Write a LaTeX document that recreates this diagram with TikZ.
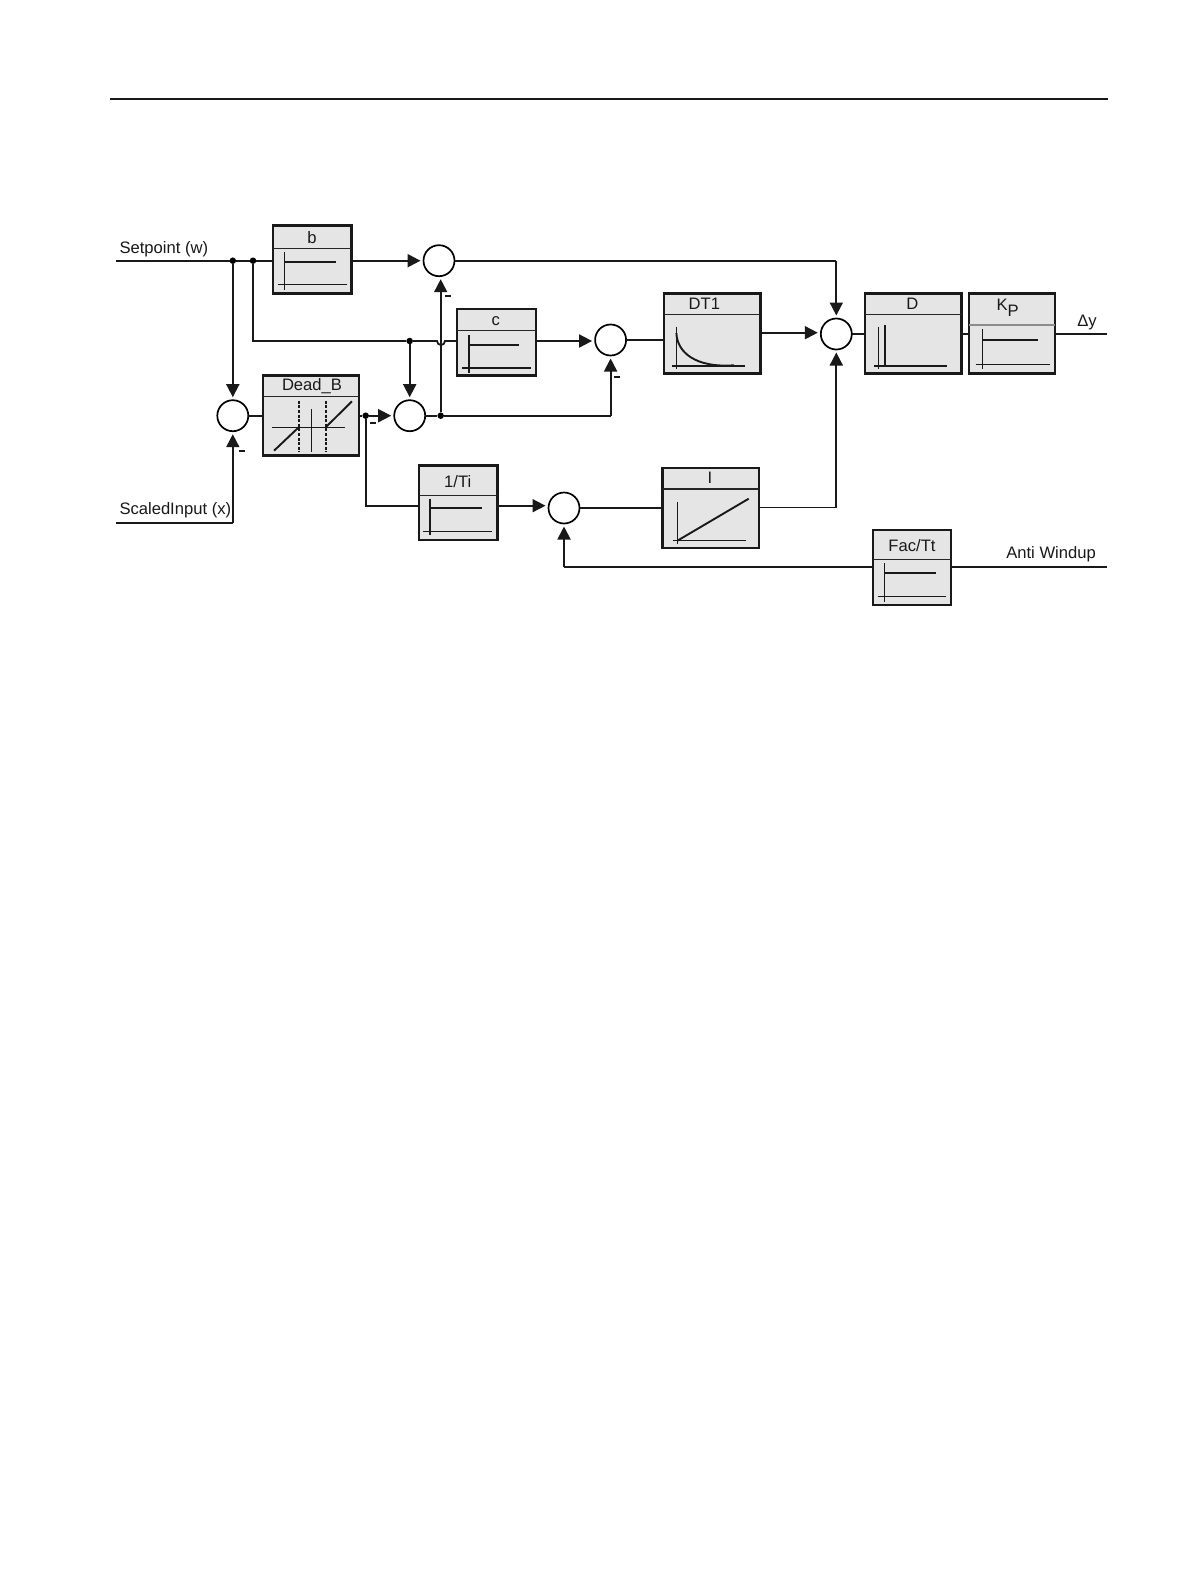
\documentclass[tikz,border=0pt]{standalone}
\usepackage{fontspec}
\setmainfont{Liberation Sans}
\usetikzlibrary{arrows.meta}
\tikzset{
  wire/.style={line width=1.8pt,draw=black!90},
  heavy/.style={line width=2.2pt,draw=black!90},
  flow/.style={wire,-{Triangle[length=13pt,width=13pt]},shorten >=3pt},
  blockbody/.style={draw=black!90,line width=2.4pt,fill=black!10,inner sep=0pt,outer sep=0pt},
  summer/.style={circle,draw=black,line width=1.7pt,fill=white,minimum size=31pt,inner sep=0pt,outer sep=0pt},
  dotnode/.style={circle,fill=black,minimum size=6.5pt,inner sep=0pt,outer sep=0pt},
  divline/.style={line width=1.5pt,draw=black!85},
  plotthin/.style={line width=1.2pt,draw=black!90},
  plotthick/.style={line width=1.9pt,draw=black!90},
  caption/.style={font=\fontsize{16.6}{18}\selectfont,text=black!90,inner sep=0pt},
  minussign/.style={fill=black!90,minimum width=6pt,minimum height=2.4pt,inner sep=0pt,outer sep=0pt}
}
\newcommand{\blockbox}[7][divline]{%
  \pgfmathsetmacro{\bcx}{(#3+#5)/2}\pgfmathsetmacro{\bcy}{(#4+#6)/2}%
  \pgfmathsetmacro{\bw}{#5-#3}\pgfmathsetmacro{\bh}{#6-#4}%
  \node[blockbody,minimum width=\bw pt,minimum height=\bh pt] (#2) at (\bcx,\bcy) {};%
  \draw[#1] (#3,#7) -- (#5,#7);}
\begin{document}
\begin{tikzpicture}[x=1pt,y=-1pt]
\useasboundingbox[fill=white] (0,0) rectangle (1191,1587);
% top rule
\coordinate (ruleL) at (110,99.2);
\coordinate (ruleR) at (1108,99.2);
\draw[wire] (ruleL) -- (ruleR);
% blocks
\blockbox{b}{272.7}{225.3}{351.3}{293.3}{248.3}
\blockbox{c}{456.7}{308.7}{535.7}{375.3}{330.7}
\blockbox{dead}{262.7}{375.3}{359}{455.3}{396.7}
\blockbox{ti}{418.7}{465.3}{497.3}{539.7}{495.7}
\blockbox{dt}{664}{293.3}{760.4}{373.3}{314.3}
\blockbox{d}{865.1}{293.3}{961.5}{373.3}{314.3}
\blockbox[{line width=1.5pt,draw=black!45}]{kp}{969.1}{293.3}{1055.2}{373.3}{325}
\blockbox{int}{662.6}{468}{759}{548}{489}
\blockbox{fac}{872.7}{530}{951.2}{604.7}{559.3}
% summers
\node[summer] (s1) at (439,260.7) {};
\node[summer] (s2) at (610.6,340) {};
\node[summer] (s3) at (836.3,334) {};
\node[summer] (s4) at (232.8,415.7) {};
\node[summer] (s5) at (409.7,415.7) {};
\node[summer] (s6) at (564,508) {};
% junctions
\node[dotnode] (j1) at (232.8,260.7) {};
\node[dotnode] (j2) at (253,260.7) {};
\node[dotnode] (j3) at (409.7,341) {};
\node[dotnode] (j4) at (440.7,415.7) {};
\node[dotnode] (j5) at (365.7,415.7) {};
% free ends and bends
\coordinate (wIn) at (116,260.7);
\coordinate (xIn) at (116,522.7);
\coordinate (xBend) at (232.8,522.7);
\coordinate (cRow) at (253,341);
\coordinate (hopA) at (437,341);
\coordinate (s2Bend) at (610.6,415.7);
\coordinate (tiRow) at (365.7,505.7);
\coordinate (dyOut) at (1107,334);
\coordinate (awOut) at (1107,567.3);
\coordinate (awBend) at (564,567.3);
\coordinate (s1Bend) at (836.3,260.7);
\coordinate (iBend) at (836.3,507.5);
\coordinate (dtRow) at (760.4,332.7);
% connectors
\draw[heavy] (wIn) -- (j1) -- (j2) -- (b.west |- wIn);
\draw[flow,line width=2.2pt] (b.east |- s1) -- (s1.west);
\draw[wire] (s1.east) -- (s1Bend);
\draw[flow] (s1Bend) -- (s3.north);
\draw[flow] (j1) -- (s4.north);
\draw[wire] (xIn) -- (xBend);
\draw[flow] (xBend) -- (s4.south);
\draw[wire] (j2) -- (cRow) -- (j3) -- (hopA) arc[start angle=180,end angle=0,radius=4] -- (c.west |- cRow);
\draw[flow] (c.east |- cRow) -- (s2.west |- cRow);
\draw[flow] (j3) -- (s5.north);
\draw[wire] (s4.east) -- (dead.west |- s4);
\draw[wire] (dead.east |- j5) -- (j5);
\draw[flow] (j5) -- (s5.west);
\draw[wire] (s5.east) -- (j4) -- (s2Bend);
\draw[flow] (s2Bend) -- (s2.south);
\draw[flow] (j4) -- (j4 |- s1.south);
\draw[wire] (j5) -- (tiRow) -- (ti.west |- tiRow);
\draw[flow] (ti.east |- tiRow) -- (s6.west |- tiRow);
\draw[wire] (s2.east) -- (dt.west |- s2);
\draw[flow] (dtRow) -- (s3.west |- dtRow);
\draw[wire] (s3.east) -- (d.west |- s3);
\draw[wire] (d.east |- s3) -- (kp.west |- s3);
\draw[wire] (kp.east |- s3) -- (dyOut);
\draw[wire] (s6.east) -- (int.west |- s6);
\draw[wire] (int.east |- iBend) -- (iBend);
\draw[flow] (iBend) -- (s3.south);
\draw[wire] (awOut) -- (fac.east |- awOut);
\draw[wire] (fac.west |- awOut) -- (awBend);
\draw[flow] (awBend) -- (s6.south);
% mini plots: steps
\draw[plotthin] (284.3,251.7) -- (284.3,290) (278.3,284.7) -- (347.3,284.7);
\draw[plotthick] (284.3,261.7) -- (335.7,261.7);
\draw[plotthin] (469,335) -- (469,372.7) (462.3,368) -- (530.7,368);
\draw[plotthick] (469,344.7) -- (519,344.7);
\draw[plotthin] (430,499.3) -- (430,535.3) (423.3,531.3) -- (492.3,531.3);
\draw[plotthick] (430,508) -- (481.7,508);
\draw[plotthin] (982.5,329.3) -- (982.5,369.3) (975.6,364.7) -- (1049.7,364.7);
\draw[plotthick] (982.5,339.7) -- (1038,339.7);
\draw[plotthin] (884.4,563.3) -- (884.4,601.7) (877.5,596.7) -- (945.7,596.7);
\draw[plotthick] (884.4,573.3) -- (935.7,573.3);
% D
\draw[plotthin] (874,366) -- (947,366) (878.2,326.7) -- (878.2,369.3);
\draw[plotthick] (885.4,325.3) -- (885.4,366);
% DT1
\draw[plotthin] (676.4,326.7) -- (676.4,369.3) (671.9,366) -- (744.9,366);
\draw[plotthick] (676.4,333) .. controls (677,352) and (695,368) .. (733.9,365.3);
% I
\draw[plotthin] (677.4,502.3) -- (677.4,544) (672.6,540.7) -- (746,540.7);
\draw[plotthick] (677.4,540.7) -- (748.7,498.7);
% Dead band
\draw[plotthin] (272,427.3) -- (345,427.3) (311.3,409) -- (311.3,452.3);
\draw[plotthick,dash pattern=on 3pt off 1.6pt] (298.7,400.7) -- (298.7,451.7) (325.7,400.7) -- (325.7,451.7);
\draw[plotthick] (274,450.7) -- (298.7,427.3) (325.7,427.3) -- (352,401.3);
% block titles
\node[caption] (bT) at (312,238) {b};
\node[caption] (cT) at (495.7,321.5) {c};
\node[caption] (deadT) at (312,385.8) {Dead\_B};
\node[caption] (tiT) at (457.7,481.8) {1/Ti};
\node[caption] (dtT) at (704.3,303.3) {DT1};
\node[caption] (dT) at (912.3,303.3) {D};
\node[caption] (kpT) at (1007.6,308) {K\raisebox{-6pt}{P}};
\node[caption] (intT) at (710,477.7) {I};
\node[caption] (facT) at (912,545.7) {Fac/Tt};
% labels
\node[caption,anchor=west] (wL) at (119.3,249) {Setpoint (w)};
\node[caption,anchor=west] (xL) at (119.3,509.8) {ScaledInput (x)};
\node[caption] (dyL) at (1087,322.3) {Δy};
\node[caption,anchor=east] (awL) at (1096,554.3) {Anti Windup};
% minus signs
\node[minussign] (m1) at (448.3,296) {};
\node[minussign] (m2) at (241.7,451) {};
\node[minussign] (m3) at (373,422.7) {};
\node[minussign] (m4) at (616.8,376.7) {};
\end{tikzpicture}
\end{document}
